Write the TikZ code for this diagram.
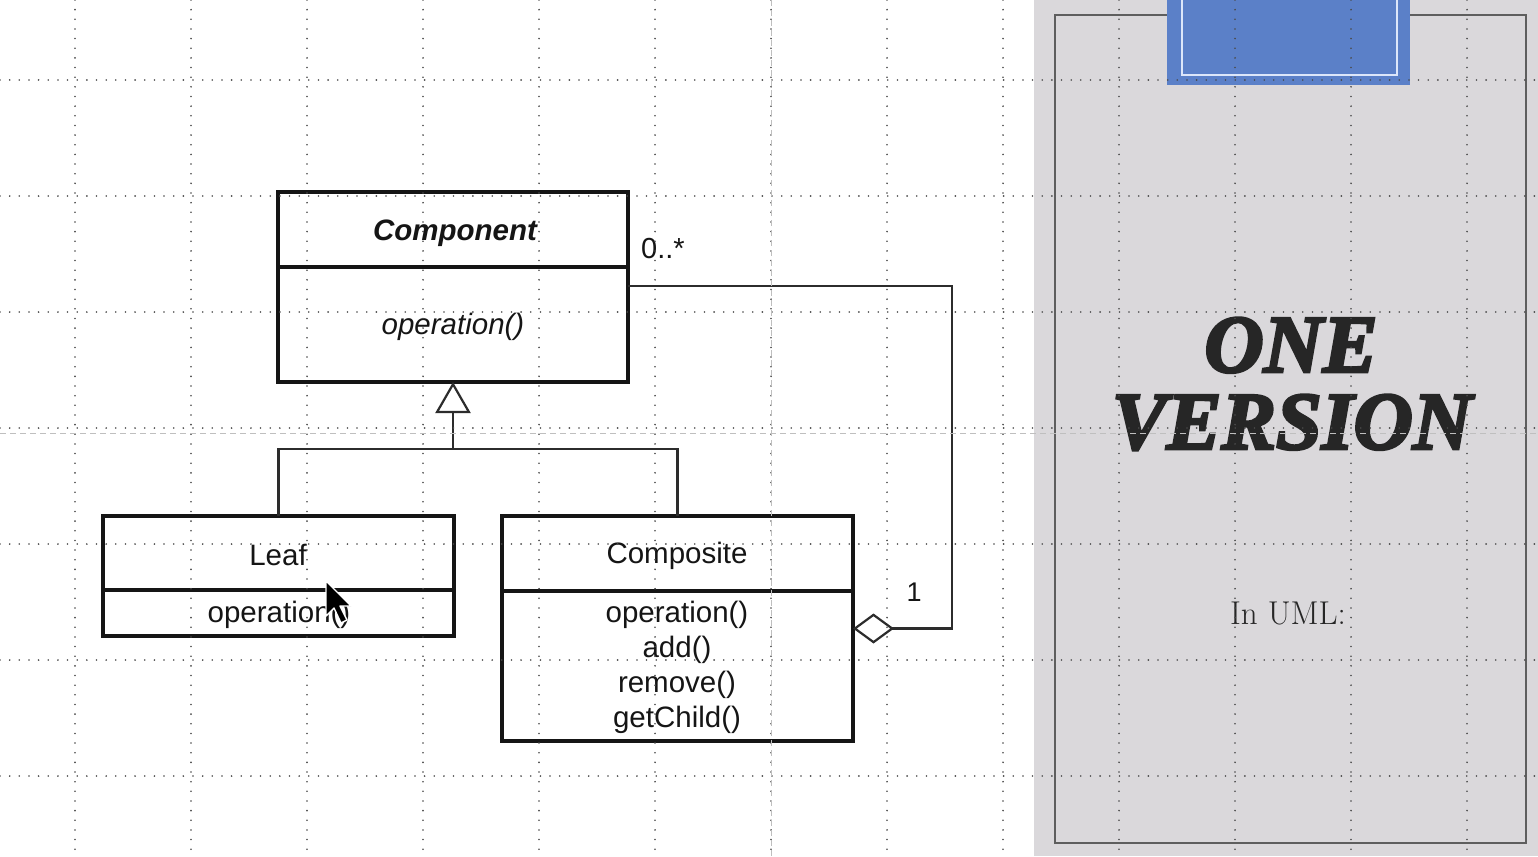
\documentclass[tikz,border=0pt]{standalone}
\usepackage{fontspec}
\usetikzlibrary{arrows.meta}
\newfontfamily\umlsans{Liberation Sans}
\newfontfamily\titlefont{Liberation Serif Bold Italic}[FakeBold=3.5]
\definecolor{panelgray}{HTML}{DAD8DB}
\definecolor{panelline}{HTML}{5E5E5E}
\definecolor{blueblock}{HTML}{5B80C8}
\definecolor{blueinner}{HTML}{DCE6FA}
\definecolor{dotcol}{HTML}{4A4A4A}
\definecolor{inkcol}{HTML}{151515}
\tikzset{
  umlbox/.style={draw=inkcol, line width=3.5pt, rectangle, inner sep=0pt, outer sep=0pt},
  divider/.style={draw=inkcol, line width=3.5pt},
  conn/.style={draw=inkcol!90, line width=2.2pt},
  umltext/.style={font=\umlsans\fontsize{29.5}{35}\selectfont, text=inkcol, inner sep=0pt},
  griddot/.style={draw=dotcol, line width=1.8pt, line cap=round, dash pattern=on 0pt off 9.65pt},
  guide/.style={draw=black!25, line width=1pt, dash pattern=on 6pt off 4pt},
}
\begin{document}
\begin{tikzpicture}[x=1pt, y=-1pt]
\useasboundingbox (0,0) rectangle (1538,856);
\fill[white] (0,0) rectangle (1538,856);
% right panel
\fill[panelgray] (1034,0) rectangle (1538,856);
\draw[panelline, line width=2pt] (1055,15) rectangle (1526,843);
\fill[blueblock] (1167,-2) rectangle (1410,85);
\draw[blueinner, line width=2pt] (1182,-5) rectangle (1397,75);

% UML classes
\node[umlbox, minimum width=350pt, minimum height=190pt] (comp) at (453,287) {};
\draw[divider] (comp.west |- 0,267) -- (comp.east |- 0,267);
\node[umltext, font=\umlsans\bfseries\itshape\fontsize{29.5}{35}\selectfont] (compname) at (455,233) {Component};
\node[umltext, font=\umlsans\itshape\fontsize{29.5}{35}\selectfont] (compop) at (453,327) {operation()};

\node[umlbox, minimum width=351pt, minimum height=120pt] (leaf) at (278.5,576) {};
\draw[divider] (leaf.west |- 0,590) -- (leaf.east |- 0,590);
\node[umltext] (leafname) at (278,555) {Leaf};
\node[umltext] (leafop) at (279,615) {operation()};

\node[umlbox, minimum width=351pt, minimum height=225pt] (compo) at (677.5,628.5) {};
\draw[divider] (compo.west |- 0,591) -- (compo.east |- 0,591);
\node[umltext] (componame) at (677,556) {Composite};
\node[umltext] (compoop1) at (677,615) {operation()};
\node[umltext] (compoop2) at (677,650) {add()};
\node[umltext] (compoop3) at (677,685) {remove()};
\node[umltext] (compoop4) at (677,720) {getChild()};

% generalization
\coordinate (jn) at (453,449);
\draw[conn] (leaf.north) |- (jn) -| (compo.north);
\draw[conn, -{Triangle[open, length=31pt, width=35pt, line width=2.2pt]}] (jn) -- (comp.south);

% aggregation
\coordinate (aggcorner) at (952,628.5);
\coordinate (aggtop) at (952,286);
\draw[conn, {Diamond[open, length=41pt, width=30pt, line width=2.2pt]}-] (compo.east) -- (aggcorner) -- (aggtop) -- (comp.east |- aggtop);
\node[umltext, font=\umlsans\fontsize{29}{33}\selectfont] (multmany) at (663,249) {0..*};
\node[umltext, font=\umlsans\fontsize{27}{31}\selectfont] (multone) at (914,592) {1};

% title text
\node[anchor=base, inner sep=0pt, text=black!85, font=\titlefont\bfseries\fontsize{82}{90}\selectfont] (titleone) at (1291,372) {ONE};
\node[anchor=base, inner sep=0pt, text=black!85, font=\titlefont\bfseries\fontsize{82}{90}\selectfont] (titletwo) at (1292,449) {VERSION};
\node[anchor=base, inner sep=0pt, text=black!85, font=\fontsize{33}{38}\selectfont] (inuml) at (1288,624) {In UML:};

% grid
\foreach \gx in {75,191,307,423,539,655,771,887,1003,1119,1235,1351,1467}
  \draw[griddot] (\gx,0) -- (\gx,856);
\foreach \gy in {80,196,312,428,544,660,776}
  \draw[griddot] (0,\gy) -- (1538,\gy);
\draw[guide] (771,0) -- (771,856);
\draw[guide] (0,433) -- (1538,433);

% mouse cursor
\draw[fill=black, draw=white, line width=1.4pt, line join=round]
  (326,581) -- (326,616) -- (334,608) -- (341,623) -- (347,620) -- (340,606) -- (351,606) -- cycle;
\end{tikzpicture}
\end{document}
